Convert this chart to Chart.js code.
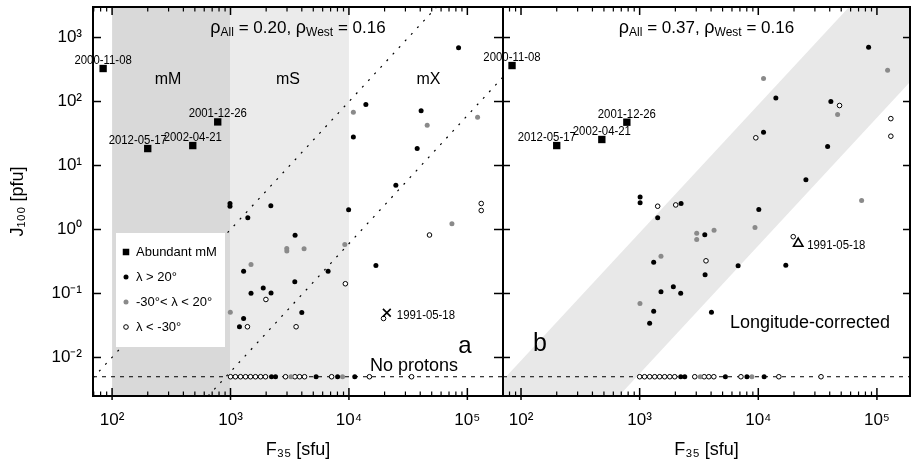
<!DOCTYPE html>
<html>
<head>
<meta charset="utf-8">
<script src="https://cdn.jsdelivr.net/npm/chart.js@4.4.1/dist/chart.umd.min.js"></script>
<style>
  html, body { margin: 0; padding: 0; background: #fff; }
  #wrap { position: relative; width: 911px; height: 466px; }
  canvas { position: absolute; left: 0; top: 0; }
</style>
</head>
<body>
<div id="wrap">
  <canvas id="panelA" width="911" height="466"></canvas>
  <canvas id="panelB" width="911" height="466"></canvas>
</div>
<script>
const FONT = '"Liberation Sans", Arial, Helvetica, sans-serif';
Chart.defaults.font.family = FONT;
Chart.defaults.color = "#000";

// axes
const J_RANGE = [0.0025, 3000];
const F_RANGE_A = [69, 200000];
const F_RANGE_B = [70.5, 190000];
const yDecades = [0.01, 0.1, 1, 10, 100, 1000];
const xDecades = [100, 1000, 10000, 100000];
const minorDecades = [10, 100, 1000, 10000, 100000];
const minorSteps = [2, 3, 4, 5, 6, 7, 8, 9];
const NO_PROTON_J = 0.005;

// correlation coefficients
const rhoAllA = "0.20", rhoWestA = "0.16";
const rhoAllB = "0.37", rhoWestB = "0.16";

// abundant mM events
const mmDates = ["2000-11-08", "2012-05-17", "2002-04-21", "2001-12-26"];
const mmF = [84, 200, 480, 780];
const mmJA = [328, 18.4, 20.5, 48];
const mmJB = [365, 20.5, 25.5, 47.5];

// panel a, observed J100
const aWestF = [84300, 13900, 40700, 10900, 37700, 24900, 990, 990, 1400, 2190, 9940, 3510, 16900, 1290, 6670, 3490, 1890, 1490, 2200, 4000, 1290, 1190];
const aWestJ = [690, 90, 72, 28, 18.4, 4.9, 2.55, 2.3, 1.52, 2.34, 2.03, 0.815, 0.274, 0.223, 0.223, 0.152, 0.122, 0.101, 0.102, 0.0505, 0.0407, 0.0302];
const aMidF = [10900, 45800, 122000, 74100, 2985, 2990, 4180, 9230, 1490, 996];
const aMidJ = [68, 42.7, 57, 1.23, 0.505, 0.46, 0.5, 0.583, 0.284, 0.051];
const aEastF = [131000, 131000, 47900, 9330, 1990, 1390, 3580, 19600];
const aEastJ = [2.55, 1.98, 0.82, 0.142, 0.0806, 0.0302, 0.0302, 0.0407];

// panel b, longitude-corrected J100
const bWestF = [85100, 14060, 40900, 11070, 38400, 25200, 1009, 1009, 2234, 1419, 10100, 3540, 1313, 6760, 17060, 3560, 1923, 1513, 2218, 1313, 4030, 1214];
const bWestJ = [705, 113, 100, 33, 19.8, 6.0, 3.22, 2.61, 2.55, 1.52, 2.05, 0.826, 0.308, 0.271, 0.277, 0.196, 0.127, 0.106, 0.101, 0.0528, 0.0511, 0.0344];
const bMidF = [123000, 11070, 46600, 74300, 3026, 3026, 4238, 9380, 1513, 1006];
const bMidJ = [308, 229, 62.7, 2.84, 0.875, 0.698, 0.975, 1.07, 0.383, 0.0698];
const bEastF = [131000, 131000, 48400, 9530, 1419, 2014, 3624, 19700];
const bEastJ = [54, 28.7, 86.6, 27.1, 2.31, 2.42, 0.324, 0.772];

// events without protons (same F35 in both panels)
const npWestF = [2220, 2400, 5280, 8020, 11200];
const npMidF = [3240, 8830];
const npEastF = [1000, 1100, 1215, 1340, 1475, 1625, 1795, 1975, 2915, 3500, 3830, 4220, 7140, 14900, 33800];

// 1991-05-18
const ev1991 = "1991-05-18";
const ev1991A = { x: 20900, y: 0.05 };
const ev1991B = { x: 21700, y: 0.604 };

// guide lines / band
const guideHiF = [69, 55000], guideHiJ = [0.0048, 3000];
const guideLoF = [647, 200000], guideLoJ = [0.0025, 242];
const bandF = [70.5, 58200, 190000, 190000, 668, 70.5];
const bandJ = [0.00443, 3000, 3000, 202, 0.0025, 0.0025];
const zoneMM = [100, 1000], zoneMS = [1000, 10000];

const SUP = { "0": "\u2070", "1": "\u00b9", "2": "\u00b2", "3": "\u00b3", "4": "\u2074", "5": "\u2075", "-": "\u207b" };
const decadeLabel = (v) =>
  "10" + String(Math.round(Math.log10(v))).split("").map((c) => SUP[c]).join("");

const pts = (F, J) => F.map((f, i) => ({ x: f, y: J[i] }));
const row = (F) => F.map((f) => ({ x: f, y: NO_PROTON_J }));

const STYLE = {
  west: { pointStyle: "circle", pointRadius: 2.5, backgroundColor: "#000", borderColor: "#000", borderWidth: 0 },
  mid: { pointStyle: "circle", pointRadius: 2.5, backgroundColor: "#8a8a8a", borderColor: "#8a8a8a", borderWidth: 0 },
  east: { pointStyle: "circle", pointRadius: 2.3, backgroundColor: "#fff", borderColor: "#000", borderWidth: 1 },
  mm: { pointStyle: "rect", pointRadius: 5.2, backgroundColor: "#000", borderColor: "#000", borderWidth: 0 },
};

function pointSet(data, st, order) {
  return Object.assign({ data: data, order: order || 0, pointHoverRadius: 0 }, st);
}
function lineSet(data, dash, width) {
  return {
    data: data, showLine: true, pointRadius: 0, borderColor: "#000",
    borderWidth: width, borderDash: dash, fill: false, order: 20,
  };
}

function txt(ctx, s, x, y, size, align, squeeze) {
  ctx.save();
  ctx.font = size + "px " + FONT;
  ctx.fillStyle = "#000";
  ctx.textAlign = align || "center";
  ctx.textBaseline = "middle";
  ctx.translate(x, y);
  ctx.scale(squeeze || 1, 1);
  ctx.fillText(s, 0, 0);
  ctx.restore();
}

// text with sub/superscripts, parts: {t, size, dy}
function richText(ctx, parts, cx, cy) {
  ctx.save();
  let w = 0;
  parts.forEach((p) => {
    ctx.font = p.size + "px " + FONT;
    p.w = ctx.measureText(p.t).width;
    w += p.w;
  });
  let x = cx - w / 2;
  ctx.textAlign = "left";
  ctx.textBaseline = "middle";
  ctx.fillStyle = "#000";
  parts.forEach((p) => {
    ctx.font = p.size + "px " + FONT;
    ctx.fillText(p.t, x, cy + (p.dy || 0));
    x += p.w;
  });
  ctx.restore();
}

function rhoTitle(all, west) {
  return [
    { t: "\u03c1", size: 18 }, { t: "All", size: 12, dy: 5 },
    { t: " = " + all + ", ", size: 17 },
    { t: "\u03c1", size: 18 }, { t: "West", size: 12, dy: 5 },
    { t: " = " + west, size: 17 },
  ];
}

// frame + tick marks (inward), tick lengths per side
function drawFrame(chart, tl) {
  const { ctx, chartArea: a, scales: { x, y } } = chart;
  ctx.save();
  ctx.strokeStyle = "#000";
  const seg = (x1, y1, x2, y2) => { ctx.beginPath(); ctx.moveTo(x1, y1); ctx.lineTo(x2, y2); ctx.stroke(); };
  ctx.lineWidth = 1.5;
  yDecades.forEach((v) => {
    const py = y.getPixelForValue(v);
    seg(a.left, py, a.left + tl.left, py);
    seg(a.right - tl.right, py, a.right, py);
  });
  xDecades.forEach((v) => {
    const px = x.getPixelForValue(v);
    seg(px, a.top, px, a.top + 8);
    seg(px, a.bottom - 8, px, a.bottom + 4);
  });
  ctx.lineWidth = 1.2;
  minorDecades.forEach((d) => minorSteps.forEach((s) => {
    const v = d * s;
    if (v <= x.min || v >= x.max) return;
    const px = x.getPixelForValue(v);
    seg(px, a.top, px, a.top + 4.5);
    seg(px, a.bottom - 4.5, px, a.bottom);
  }));
  ctx.lineWidth = 2;
  ctx.strokeRect(a.left, a.top, a.right - a.left, a.bottom - a.top);
  ctx.restore();
}

function dateLabels(chart, J) {
  const { ctx, scales: { x, y } } = chart;
  mmDates.forEach((d, i) => {
    const px = x.getPixelForValue(mmF[i]);
    const py = y.getPixelForValue(J[i]);
    const dx = d === "2012-05-17" ? -10 : 0;
    txt(ctx, d, px + dx, py - 8, 12.5, "center", 0.91);
  });
}

function drawLegend(ctx) {
  ctx.save();
  ctx.fillStyle = "#fff";
  ctx.fillRect(116, 233, 109, 114);
  const items = [
    ["mm", "Abundant mM", 252],
    ["west", "\u03bb > 20\u00b0", 277],
    ["mid", "-30\u00b0< \u03bb < 20\u00b0", 302],
    ["east", "\u03bb < -30\u00b0", 327],
  ];
  items.forEach(([k, label, yy]) => {
    const st = STYLE[k];
    ctx.fillStyle = st.backgroundColor;
    ctx.strokeStyle = st.borderColor;
    ctx.lineWidth = st.borderWidth;
    Chart.helpers.drawPoint(ctx, { pointStyle: st.pointStyle, radius: k === "mm" ? 4.6 : st.pointRadius, borderWidth: st.borderWidth, rotation: 0 }, 126, yy);
    txt(ctx, label, 136, yy, 13, "left");
  });
  ctx.restore();
}

function fillPoly(chart, F, J, color) {
  const { ctx, chartArea: a, scales: { x, y } } = chart;
  ctx.save();
  ctx.beginPath();
  ctx.rect(a.left, a.top, a.right - a.left, a.bottom - a.top);
  ctx.clip();
  ctx.fillStyle = color;
  ctx.beginPath();
  F.forEach((f, i) => {
    const px = x.getPixelForValue(f), py = y.getPixelForValue(J[i]);
    if (i === 0) ctx.moveTo(px, py); else ctx.lineTo(px, py);
  });
  ctx.closePath();
  ctx.fill();
  ctx.restore();
}

function zone(chart, edges, color) {
  const { ctx, chartArea: a, scales: { x } } = chart;
  const x1 = x.getPixelForValue(edges[0]), x2 = x.getPixelForValue(edges[1]);
  ctx.save();
  ctx.fillStyle = color;
  ctx.fillRect(x1, a.top, x2 - x1, a.bottom - a.top);
  ctx.restore();
}

const panelAPlugin = {
  id: "panelA",
  beforeDatasetsDraw(chart) {
    zone(chart, zoneMM, "#d9d9d9");
    zone(chart, zoneMS, "#ebebeb");
  },
  afterDatasetsDraw(chart) {
    const { ctx, chartArea: a, scales: { x, y } } = chart;
    drawLegend(ctx);
    drawFrame(chart, { left: 8, right: 9 });
    const cy = y.getPixelForValue(221);
    txt(ctx, "mM", x.getPixelForValue(297), cy, 16);
    txt(ctx, "mS", x.getPixelForValue(3060), cy, 16);
    txt(ctx, "mX", x.getPixelForValue(47000), cy, 16);
    richText(ctx, rhoTitle(rhoAllA, rhoWestA), (a.left + a.right) / 2, 28);
    txt(ctx, "a", 465, 346, 24);
    txt(ctx, "No protons", 414, 366, 18);
    dateLabels(chart, mmJA);
    txt(ctx, ev1991, x.getPixelForValue(ev1991A.x) + 10, y.getPixelForValue(ev1991A.y) + 2.5, 12.5, "left", 0.91);
  },
};

const panelBPlugin = {
  id: "panelB",
  beforeDatasetsDraw(chart) {
    fillPoly(chart, bandF, bandJ, "#e8e8e8");
  },
  afterDatasetsDraw(chart) {
    const { ctx, chartArea: a, scales: { x, y } } = chart;
    drawFrame(chart, { left: 7, right: 7 });
    richText(ctx, rhoTitle(rhoAllB, rhoWestB), (a.left + a.right) / 2, 28);
    txt(ctx, "b", 540, 344, 25);
    txt(ctx, "Longitude-corrected", 810, 323, 18);
    dateLabels(chart, mmJB);
    txt(ctx, ev1991, x.getPixelForValue(ev1991B.x) + 9, y.getPixelForValue(ev1991B.y) + 2, 12.5, "left", 0.91);
  },
};

function xScale(range) {
  return {
    type: "logarithmic", min: range[0], max: range[1],
    grid: { display: false, drawTicks: false }, border: { display: false },
    afterBuildTicks: (s) => { s.ticks = xDecades.map((v) => ({ value: v })); },
    afterFit: (s) => { s.height = 70; s.paddingLeft = 0; s.paddingRight = 0; },
    ticks: { autoSkip: false, maxRotation: 0, padding: 14, font: { size: 17 }, color: "#000", callback: (v) => decadeLabel(v) },
    title: { display: true, text: "F\u2083\u2085 [sfu]", font: { size: 18 }, color: "#000", padding: { top: 0, bottom: 5 } },
  };
}

function makePanel(id, opts) {
  return new Chart(document.getElementById(id), {
    type: "scatter",
    data: { datasets: opts.datasets },
    options: {
      responsive: false,
      animation: false,
      events: [],
      layout: { padding: opts.padding, autoPadding: false },
      plugins: { legend: { display: false }, tooltip: { enabled: false } },
      scales: { x: xScale(opts.fRange), y: opts.yScale },
    },
    plugins: [opts.plugin],
  });
}

const levelLine = (range) => lineSet([{ x: range[0], y: NO_PROTON_J }, { x: range[1], y: NO_PROTON_J }], [4, 5], 1);

// panel a
makePanel("panelA", {
  fRange: F_RANGE_A,
  padding: { left: 0, right: 408, top: 7, bottom: 0 },
  plugin: panelAPlugin,
  yScale: {
    type: "logarithmic", min: J_RANGE[0], max: J_RANGE[1],
    grid: { display: false, drawTicks: false }, border: { display: false },
    afterBuildTicks: (s) => { s.ticks = yDecades.map((v) => ({ value: v })); },
    afterFit: (s) => { s.width = 93; s.paddingTop = 0; s.paddingBottom = 0; },
    ticks: { padding: 11, font: { size: 17 }, color: "#000", callback: (v) => decadeLabel(v) },
    title: { display: true, text: "J\u2081\u2080\u2080 [pfu]", font: { size: 18 }, color: "#000", padding: { top: 7, bottom: 0 } },
  },
  datasets: [
    pointSet(pts(mmF, mmJA), STYLE.mm),
    pointSet([ev1991A], { pointStyle: "crossRot", pointRadius: 5.5, borderColor: "#000", borderWidth: 1.6 }),
    pointSet(pts(aWestF, aWestJ), STYLE.west),
    pointSet(pts(aMidF, aMidJ), STYLE.mid),
    pointSet(pts(aEastF, aEastJ), STYLE.east, 1),
    pointSet(row(npWestF), STYLE.west),
    pointSet(row(npMidF), STYLE.mid),
    pointSet(row(npEastF), STYLE.east, 1),
    lineSet(pts(guideHiF, guideHiJ), [2, 7], 1.2),
    lineSet(pts(guideLoF, guideLoJ), [2, 7], 1.2),
    levelLine(F_RANGE_A),
  ],
});

// panel b
makePanel("panelB", {
  fRange: F_RANGE_B,
  padding: { left: 503, right: 1, top: 7, bottom: 0 },
  plugin: panelBPlugin,
  yScale: { type: "logarithmic", min: J_RANGE[0], max: J_RANGE[1], display: false },
  datasets: [
    pointSet(pts(mmF, mmJB), STYLE.mm),
    pointSet([ev1991B], { pointStyle: "triangle", pointRadius: 5.4, backgroundColor: "rgba(0,0,0,0)", borderColor: "#000", borderWidth: 1.6 }),
    pointSet(pts(bWestF, bWestJ), STYLE.west),
    pointSet(pts(bMidF, bMidJ), STYLE.mid),
    pointSet(pts(bEastF, bEastJ), STYLE.east, 1),
    pointSet(row(npWestF), STYLE.west),
    pointSet(row(npMidF), STYLE.mid),
    pointSet(row(npEastF), STYLE.east, 1),
    levelLine(F_RANGE_B),
  ],
});
</script>
</body>
</html>
